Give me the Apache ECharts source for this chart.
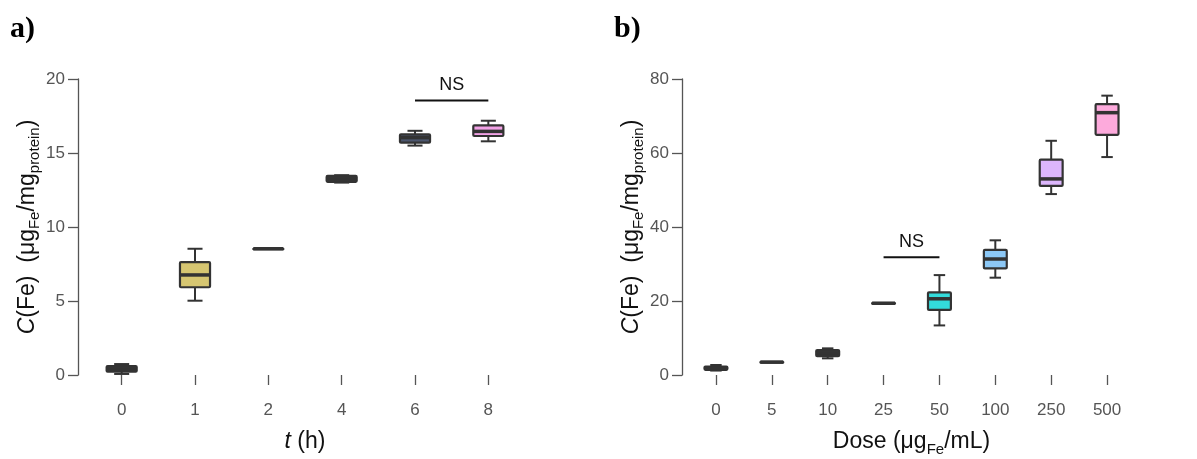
<!DOCTYPE html>
<html>
<head>
<meta charset="utf-8">
<script src="https://cdn.jsdelivr.net/npm/echarts@6/dist/echarts.min.js"></script>
<style>html,body{margin:0;padding:0;background:#fff;}#c{width:1197px;height:459px;}</style>
</head>
<body>
<div id="c"></div>
<script>
// ---- Panel a data: time course ----
const categoriesA = ['0', '1', '2', '4', '6', '8'];
const minA = [0.07, 5.02, 8.53, 13.0, 15.5, 15.79];
const q1A  = [0.22, 5.93, 8.53, 13.05, 15.7, 16.15];
const medA = [0.40, 6.76, 8.53, 13.25, 16.04, 16.46];
const q3A  = [0.60, 7.63, 8.53, 13.45, 16.26, 16.87];
const maxA = [0.74, 8.53, 8.53, 13.5, 16.5, 17.18];
const yTicksA = [0, 5, 10, 15, 20];
const nsSpanA = [4, 5];
const nsLevelA = 18.55;

// ---- Panel b data: dose response ----
const categoriesB = ['0', '5', '10', '25', '50', '100', '250', '500'];
const minB = [1.2, 3.5, 4.5, 19.4, 13.4, 26.3, 48.9, 58.9];
const q1B  = [1.4, 3.5, 5.1, 19.4, 17.6, 28.8, 51.1, 64.9];
const medB = [1.8, 3.5, 5.9, 19.4, 20.6, 31.35, 53.0, 70.9];
const q3B  = [2.3, 3.5, 6.75, 19.4, 22.35, 33.8, 58.2, 73.2];
const maxB = [2.7, 3.5, 7.2, 19.4, 27.0, 36.4, 63.3, 75.5];
const yTicksB = [0, 20, 40, 60, 80];
const nsSpanB = [3, 4];
const nsLevelB = 31.8;

// ---- styles ----
const fillA = ['#3a3a3a', '#d6c671', '#3a3a3a', '#3a3a3a', '#4c566e', '#f2a2e6'];
const fillB = ['#3a3a3a', '#3a3a3a', '#3a3a3a', '#3a3a3a', '#33dcdc', '#8cc8f6', '#dcb6fc', '#fdaadc'];
const STROKE = '#333333';
const FONT = "'Liberation Sans', Arial, sans-serif";

function boxData(mn, q1, md, q3, mx) {
  return mn.map((v, i) => [i, mn[i], q1[i], md[i], q3[i], mx[i]]);
}

function makeRender(fills) {
  return function (params, api) {
    const x = api.value(0);
    const mn = api.coord([x, api.value(1)]);
    const q1 = api.coord([x, api.value(2)]);
    const md = api.coord([x, api.value(3)]);
    const q3 = api.coord([x, api.value(4)]);
    const mx = api.coord([x, api.value(5)]);
    const band = api.size([1, 0])[0];
    const bw = band * 0.41;
    const cx = md[0];
    const lw = 2;
    const ls = { stroke: STROKE, lineWidth: lw };
    return {
      type: 'group',
      children: [
        { type: 'line', shape: { x1: cx, y1: q1[1], x2: cx, y2: mn[1] }, style: ls },
        { type: 'line', shape: { x1: cx, y1: q3[1], x2: cx, y2: mx[1] }, style: ls },
        { type: 'line', shape: { x1: cx - bw / 4, y1: mn[1], x2: cx + bw / 4, y2: mn[1] }, style: ls },
        { type: 'line', shape: { x1: cx - bw / 4, y1: mx[1], x2: cx + bw / 4, y2: mx[1] }, style: ls },
        { type: 'rect', shape: { x: cx - bw / 2, y: q3[1], width: bw, height: Math.max(q1[1] - q3[1], 0.5), r: 1 },
          style: { fill: fills[params.dataIndex], stroke: STROKE, lineWidth: 2.2 } },
        { type: 'line', shape: { x1: cx - bw / 2, y1: md[1], x2: cx + bw / 2, y2: md[1] },
          style: { stroke: STROKE, lineWidth: 3.5 } }
      ]
    };
  };
}

function nsRender(params, api) {
  const a = api.coord([api.value(0), api.value(2)]);
  const b = api.coord([api.value(1), api.value(2)]);
  return {
    type: 'group',
    children: [
      { type: 'line', shape: { x1: a[0], y1: a[1], x2: b[0], y2: b[1] }, style: { stroke: '#111', lineWidth: 2 } },
      { type: 'text', x: (a[0] + b[0]) / 2, y: a[1] - 6,
        style: { text: 'NS', fill: '#111', font: "18px " + FONT, align: 'center', verticalAlign: 'bottom' } }
    ]
  };
}

const nameRich = {
  b: { fontSize: 23, fontFamily: FONT, color: '#111', lineHeight: 30 },
  i: { fontSize: 23, fontFamily: FONT, color: '#111', fontStyle: 'italic', lineHeight: 30 },
  s: { fontSize: 15, fontFamily: FONT, color: '#111', verticalAlign: 'bottom', lineHeight: 16 }
};
const yName = '{i|C}{b|(Fe)  (μg}{s|Fe}{b|/mg}{s|protein}{b|)}';

function yAxis(gi, max, interval, offset) {
  return {
    type: 'value', gridIndex: gi, min: 0, max: max, interval: interval, offset: offset,
    name: yName, nameLocation: 'middle', nameGap: 34, nameRotate: 90,
    nameTextStyle: { rich: nameRich },
    axisLine: { show: true, lineStyle: { color: '#555', width: 1.3 } },
    axisTick: { show: true, length: 10, lineStyle: { color: '#555', width: 1.3 } },
    axisLabel: { color: '#555', fontSize: 17, fontFamily: FONT, margin: 13 },
    splitLine: { show: false }
  };
}

function xAxis(gi, cats, name) {
  return {
    type: 'category', gridIndex: gi, data: cats, offset: 15,
    name: name, nameLocation: 'middle', nameGap: 37,
    nameTextStyle: { rich: nameRich },
    axisLine: { show: false },
    axisTick: { show: true, length: 10, alignWithLabel: true, lineStyle: { color: '#555', width: 1.3 } },
    axisLabel: { color: '#555', fontSize: 17, fontFamily: FONT, margin: 12 },
    splitLine: { show: false }
  };
}

const chart = echarts.init(document.getElementById('c'), null, { renderer: 'canvas' });
chart.setOption({
  animation: false,
  backgroundColor: '#fff',
  grid: [
    { left: 85, top: 79, width: 440, height: 296, outerBoundsMode: 'none', containLabel: false },
    { left: 688, top: 79, width: 447, height: 296, outerBoundsMode: 'none', containLabel: false }
  ],
  xAxis: [
    xAxis(0, categoriesA, '{i|t}{b| (h)}'),
    xAxis(1, categoriesB, '{b|Dose (μg}{s|Fe}{b|/mL)}')
  ],
  yAxis: [
    yAxis(0, yTicksA[yTicksA.length - 1], yTicksA[1] - yTicksA[0], 7),
    yAxis(1, yTicksB[yTicksB.length - 1], yTicksB[1] - yTicksB[0], 6)
  ],
  graphic: [
    { type: 'text', left: 10, top: 14, style: { text: 'a)', font: "bold 30px 'Liberation Serif', 'Times New Roman', serif", fill: '#000' } },
    { type: 'text', left: 614, top: 14, style: { text: 'b)', font: "bold 30px 'Liberation Serif', 'Times New Roman', serif", fill: '#000' } }
  ],
  series: [
    { type: 'custom', xAxisIndex: 0, yAxisIndex: 0, renderItem: makeRender(fillA),
      data: boxData(minA, q1A, medA, q3A, maxA), encode: { x: 0, y: [1, 2, 3, 4, 5] } },
    { type: 'custom', xAxisIndex: 1, yAxisIndex: 1, renderItem: makeRender(fillB),
      data: boxData(minB, q1B, medB, q3B, maxB), encode: { x: 0, y: [1, 2, 3, 4, 5] } },
    { type: 'custom', xAxisIndex: 0, yAxisIndex: 0, renderItem: nsRender,
      data: [[nsSpanA[0], nsSpanA[1], nsLevelA]], encode: { x: [0, 1], y: 2 } },
    { type: 'custom', xAxisIndex: 1, yAxisIndex: 1, renderItem: nsRender,
      data: [[nsSpanB[0], nsSpanB[1], nsLevelB]], encode: { x: [0, 1], y: 2 } }
  ]
});
</script>
</body>
</html>
